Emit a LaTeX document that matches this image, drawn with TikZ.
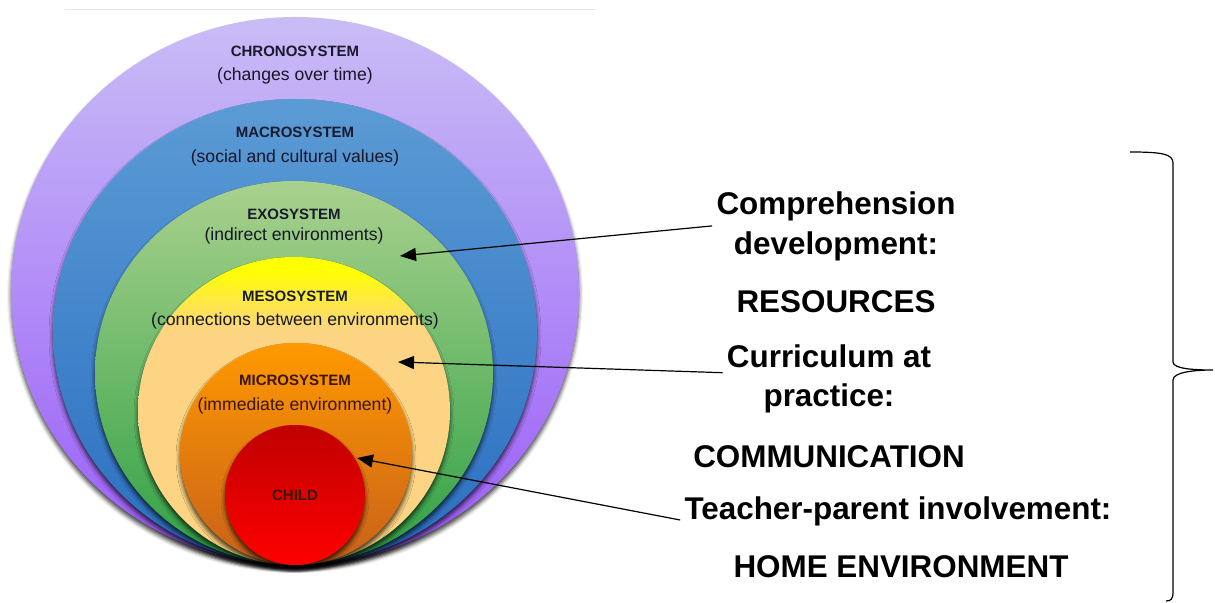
\documentclass[tikz,border=0pt]{standalone}
\usepackage{fontspec}
\setmainfont{Liberation Sans}
\usepackage{tikz}
\usetikzlibrary{arrows.meta,shapes.geometric,shadows.blur}

\definecolor{chronoTop}{HTML}{C9BDF6}
\definecolor{chronoBot}{HTML}{9A5CF8}
\definecolor{macroTop}{HTML}{5B9BD5}
\definecolor{macroBot}{HTML}{2A6EC0}
\definecolor{exoTop}{HTML}{A9D18E}
\definecolor{exoBot}{HTML}{2EA043}
\definecolor{mesoLo}{HTML}{FCD483}
\definecolor{mesoHi}{HTML}{FFFF00}
\definecolor{microTop}{HTML}{FF9900}
\definecolor{microBot}{HTML}{C8601A}
\definecolor{childTop}{HTML}{C00000}
\definecolor{childBot}{HTML}{FF0000}
\definecolor{inkNavy}{HTML}{1A1A2E}
\definecolor{inkBrown}{HTML}{3A1500}

\pgfdeclareverticalshading{mesoshade}{100bp}{color(0bp)=(mesoLo); color(25bp)=(mesoLo); color(63bp)=(mesoLo); color(73bp)=(mesoHi); color(100bp)=(mesoHi)}

\tikzset{
  layer/.style={ellipse, inner sep=0pt,
    blur shadow={shadow xshift=0pt, shadow yshift=-2pt, shadow blur radius=2pt, shadow opacity=75}},
  sysname/.style={font=\fontsize{7.5}{9}\selectfont\bfseries, text=inkNavy, anchor=base},
  sysnote/.style={font=\fontsize{8.8}{10}\selectfont, text=inkNavy!85!black, anchor=base},
  focus/.style={font=\fontsize{15.7}{18}\selectfont\bfseries, anchor=base, inner sep=2pt},
}

\begin{document}
\begin{tikzpicture}[x=0.5pt,y=-0.5pt,>={Triangle[length=8pt,width=6.5pt]}]
  \useasboundingbox (0,0) rectangle (1215,603);
  \draw[gray!20, line width=0.5pt] (65,10) -- (595,10);

  % nested systems
  \node[layer, minimum width=284pt, minimum height=274pt, top color=chronoTop, bottom color=chronoBot] (chrono) at (295,291) {};
  \node[layer, minimum width=242pt, minimum height=233pt, top color=macroTop, bottom color=macroBot] (macro) at (295,332) {};
  \node[layer, minimum width=199pt, minimum height=192pt, top color=exoTop, bottom color=exoBot] (exo) at (294,373) {};
  \node[layer, minimum width=156pt, minimum height=154pt, shading=mesoshade] (meso) at (294,411) {};
  \node[layer, minimum width=116pt, minimum height=111pt, top color=microTop, bottom color=microBot] (micro) at (296,454) {};
  \node[layer, minimum width=70pt, minimum height=70pt, top color=childTop, bottom color=childBot] (child) at (295,495) {};

  \node[sysname] (chronoName) at (295,57) {CHRONOSYSTEM};
  \node[sysnote] (chronoNote) at (295,81) {(changes over time)};
  \node[sysname] (macroName) at (295,138) {MACROSYSTEM};
  \node[sysnote] (macroNote) at (295,163) {(social and cultural values)};
  \node[sysname] (exoName) at (294,220) {EXOSYSTEM};
  \node[sysnote] (exoNote) at (294,241) {(indirect environments)};
  \node[sysname] (mesoName) at (295,302) {MESOSYSTEM};
  \node[sysnote] (mesoNote) at (295,326) {(connections between environments)};
  \node[sysname, text=inkBrown] (microName) at (295,386) {MICROSYSTEM};
  \node[sysnote, text=inkBrown] (microNote) at (295,411) {(immediate environment)};
  \node[sysname, text=inkBrown] (childName) at (295,501) {CHILD};

  % focus areas
  \node[focus] (comp) at (836,215) {Comprehension};
  \node[focus] (dev) at (836,255) {development:};
  \node[focus] (res) at (836,313) {RESOURCES};
  \node[focus] (curr) at (829,368) {Curriculum at};
  \node[focus] (prac) at (829,407) {practice:};
  \node[focus] (comm) at (829,468) {COMMUNICATION};
  \node[focus] (teach) at (898,520) {Teacher-parent involvement:};
  \node[focus] (home) at (901,577) {HOME ENVIRONMENT};

  \coordinate (exoPt) at (400,256);
  \coordinate (mesoPt) at (398,362);
  \coordinate (childPt) at (357,458);

  \draw[->, line width=0.6pt] (comp.south west) -- (exoPt);
  \draw[->, line width=0.6pt] (curr.south west) -- (mesoPt);
  \draw[->, line width=0.6pt] (teach.base west) -- (childPt);

  % brace
  \draw[line width=0.6pt] (1130,152) .. controls (1162,152) and (1173,154) .. (1173,163)
    -- (1173,362) .. controls (1173,369) and (1195,370) .. (1213,370)
    .. controls (1195,370) and (1173,372) .. (1173,380)
    -- (1173,592) .. controls (1173,599) and (1171,601) .. (1166,601);
\end{tikzpicture}
\end{document}
